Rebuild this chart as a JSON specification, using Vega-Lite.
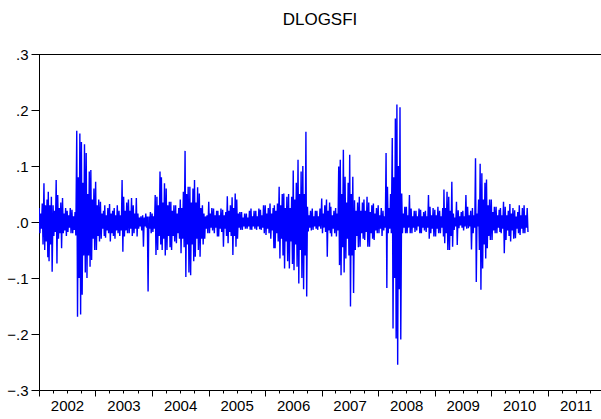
{
"$schema":"https://vega.github.io/schema/vega-lite/v6.json",
"width":562,"height":336,
"autosize":"none",
"padding":{"left":39,"top":54,"right":0,"bottom":29},
"background":"white",
"title":{"text":"DLOGSFI","fontSize":17,"font":"Liberation Sans","fontWeight":"normal","color":"black","anchor":"middle","offset":18},
"config":{"view":{"stroke":null},"axis":{"labelFont":"Liberation Sans","labelColor":"black","domainColor":"black","tickColor":"black","grid":false,"title":null}},
"data":{"values":[
{"d":"2002-01-02","v":0.025},{"d":"2002-01-07","v":-0.02},{"d":"2002-01-12","v":0.015},{"d":"2002-01-17","v":-0.012},{"d":"2002-01-22","v":0.033},{"d":"2002-01-27","v":-0.04},
{"d":"2002-02-02","v":0.069},{"d":"2002-02-07","v":-0.05},{"d":"2002-02-12","v":0.03},{"d":"2002-02-17","v":-0.035},{"d":"2002-02-22","v":0.04},{"d":"2002-02-27","v":-0.063},
{"d":"2002-03-02","v":0.054},{"d":"2002-03-07","v":-0.07},{"d":"2002-03-12","v":0.03},{"d":"2002-03-17","v":-0.04},{"d":"2002-03-22","v":0.045},{"d":"2002-03-27","v":-0.089},
{"d":"2002-04-02","v":0.03},{"d":"2002-04-07","v":-0.025},{"d":"2002-04-12","v":0.02},{"d":"2002-04-17","v":-0.018},{"d":"2002-04-22","v":0.075},{"d":"2002-04-27","v":-0.074},
{"d":"2002-05-02","v":0.048},{"d":"2002-05-07","v":-0.03},{"d":"2002-05-12","v":0.025},{"d":"2002-05-17","v":-0.02},{"d":"2002-05-22","v":0.035},{"d":"2002-05-27","v":-0.047},
{"d":"2002-06-02","v":0.043},{"d":"2002-06-07","v":-0.02},{"d":"2002-06-12","v":0.015},{"d":"2002-06-17","v":-0.015},{"d":"2002-06-22","v":0.025},{"d":"2002-06-27","v":-0.025},
{"d":"2002-07-02","v":0.02},{"d":"2002-07-07","v":-0.018},{"d":"2002-07-12","v":0.012},{"d":"2002-07-17","v":-0.01},{"d":"2002-07-22","v":0.025},{"d":"2002-07-27","v":-0.02},
{"d":"2002-08-02","v":0.022},{"d":"2002-08-07","v":-0.02},{"d":"2002-08-12","v":0.01},{"d":"2002-08-17","v":-0.014},{"d":"2002-08-22","v":0.018},{"d":"2002-08-27","v":-0.024},
{"d":"2002-09-02","v":0.163},{"d":"2002-09-07","v":-0.169},{"d":"2002-09-12","v":0.08},{"d":"2002-09-17","v":-0.1},{"d":"2002-09-22","v":0.158},{"d":"2002-09-27","v":-0.165},
{"d":"2002-10-02","v":0.143},{"d":"2002-10-07","v":-0.13},{"d":"2002-10-12","v":0.07},{"d":"2002-10-17","v":-0.06},{"d":"2002-10-22","v":0.139},{"d":"2002-10-27","v":-0.09},
{"d":"2002-11-02","v":0.123},{"d":"2002-11-07","v":-0.1},{"d":"2002-11-12","v":0.05},{"d":"2002-11-17","v":-0.06},{"d":"2002-11-22","v":0.09},{"d":"2002-11-27","v":-0.08},
{"d":"2002-12-02","v":0.093},{"d":"2002-12-07","v":-0.068},{"d":"2002-12-12","v":0.04},{"d":"2002-12-17","v":-0.03},{"d":"2002-12-22","v":0.06},{"d":"2002-12-27","v":-0.05},
{"d":"2003-01-02","v":0.072},{"d":"2003-01-07","v":-0.05},{"d":"2003-01-12","v":0.03},{"d":"2003-01-17","v":-0.025},{"d":"2003-01-22","v":0.04},{"d":"2003-01-27","v":-0.035},
{"d":"2003-02-02","v":0.036},{"d":"2003-02-07","v":-0.03},{"d":"2003-02-12","v":0.015},{"d":"2003-02-17","v":-0.012},{"d":"2003-02-22","v":0.02},{"d":"2003-02-27","v":-0.025},
{"d":"2003-03-02","v":0.03},{"d":"2003-03-07","v":-0.028},{"d":"2003-03-12","v":0.012},{"d":"2003-03-17","v":-0.015},{"d":"2003-03-22","v":0.025},{"d":"2003-03-27","v":-0.02},
{"d":"2003-04-02","v":0.032},{"d":"2003-04-07","v":-0.035},{"d":"2003-04-12","v":0.015},{"d":"2003-04-17","v":-0.02},{"d":"2003-04-22","v":0.02},{"d":"2003-04-27","v":-0.025},
{"d":"2003-05-02","v":0.025},{"d":"2003-05-07","v":-0.03},{"d":"2003-05-12","v":0.012},{"d":"2003-05-17","v":-0.015},{"d":"2003-05-22","v":0.03},{"d":"2003-05-27","v":-0.02},
{"d":"2003-06-02","v":0.02},{"d":"2003-06-07","v":-0.025},{"d":"2003-06-12","v":0.012},{"d":"2003-06-17","v":-0.015},{"d":"2003-06-22","v":0.075},{"d":"2003-06-27","v":-0.053},
{"d":"2003-07-02","v":0.045},{"d":"2003-07-07","v":-0.026},{"d":"2003-07-12","v":0.02},{"d":"2003-07-17","v":-0.015},{"d":"2003-07-22","v":0.035},{"d":"2003-07-27","v":-0.02},
{"d":"2003-08-02","v":0.04},{"d":"2003-08-07","v":-0.02},{"d":"2003-08-12","v":0.02},{"d":"2003-08-17","v":-0.012},{"d":"2003-08-22","v":0.043},{"d":"2003-08-27","v":-0.025},
{"d":"2003-09-02","v":0.03},{"d":"2003-09-07","v":-0.02},{"d":"2003-09-12","v":0.015},{"d":"2003-09-17","v":-0.012},{"d":"2003-09-22","v":0.043},{"d":"2003-09-27","v":-0.026},
{"d":"2003-10-02","v":0.015},{"d":"2003-10-07","v":-0.012},{"d":"2003-10-12","v":0.008},{"d":"2003-10-17","v":-0.008},{"d":"2003-10-22","v":0.01},{"d":"2003-10-27","v":-0.015},
{"d":"2003-11-02","v":0.012},{"d":"2003-11-07","v":-0.044},{"d":"2003-11-12","v":0.008},{"d":"2003-11-17","v":-0.008},{"d":"2003-11-22","v":0.015},{"d":"2003-11-27","v":-0.01},
{"d":"2003-12-02","v":0.01},{"d":"2003-12-07","v":-0.124},{"d":"2003-12-12","v":0.01},{"d":"2003-12-17","v":-0.012},{"d":"2003-12-22","v":0.018},{"d":"2003-12-27","v":-0.02},
{"d":"2004-01-02","v":0.015},{"d":"2004-01-07","v":-0.018},{"d":"2004-01-12","v":0.01},{"d":"2004-01-17","v":-0.012},{"d":"2004-01-22","v":0.048},{"d":"2004-01-27","v":-0.059},
{"d":"2004-02-02","v":0.045},{"d":"2004-02-07","v":-0.05},{"d":"2004-02-12","v":0.03},{"d":"2004-02-17","v":-0.025},{"d":"2004-02-22","v":0.09},{"d":"2004-02-27","v":-0.04},
{"d":"2004-03-02","v":0.08},{"d":"2004-03-07","v":-0.05},{"d":"2004-03-12","v":0.035},{"d":"2004-03-17","v":-0.03},{"d":"2004-03-22","v":0.069},{"d":"2004-03-27","v":-0.06},
{"d":"2004-04-02","v":0.06},{"d":"2004-04-07","v":-0.05},{"d":"2004-04-12","v":0.03},{"d":"2004-04-17","v":-0.025},{"d":"2004-04-22","v":0.036},{"d":"2004-04-27","v":-0.045},
{"d":"2004-05-02","v":0.036},{"d":"2004-05-07","v":-0.05},{"d":"2004-05-12","v":0.02},{"d":"2004-05-17","v":-0.025},{"d":"2004-05-22","v":0.03},{"d":"2004-05-27","v":-0.035},
{"d":"2004-06-02","v":0.03},{"d":"2004-06-07","v":-0.038},{"d":"2004-06-12","v":0.015},{"d":"2004-06-17","v":-0.02},{"d":"2004-06-22","v":0.025},{"d":"2004-06-27","v":-0.03},
{"d":"2004-07-02","v":0.04},{"d":"2004-07-07","v":-0.056},{"d":"2004-07-12","v":0.025},{"d":"2004-07-17","v":-0.03},{"d":"2004-07-22","v":0.054},{"d":"2004-07-27","v":-0.045},
{"d":"2004-08-02","v":0.127},{"d":"2004-08-07","v":-0.098},{"d":"2004-08-12","v":0.05},{"d":"2004-08-17","v":-0.04},{"d":"2004-08-22","v":0.063},{"d":"2004-08-27","v":-0.09},
{"d":"2004-09-02","v":0.063},{"d":"2004-09-07","v":-0.095},{"d":"2004-09-12","v":0.035},{"d":"2004-09-17","v":-0.04},{"d":"2004-09-22","v":0.06},{"d":"2004-09-27","v":-0.07},
{"d":"2004-10-02","v":0.075},{"d":"2004-10-07","v":-0.062},{"d":"2004-10-12","v":0.035},{"d":"2004-10-17","v":-0.03},{"d":"2004-10-22","v":0.062},{"d":"2004-10-27","v":-0.05},
{"d":"2004-11-02","v":0.051},{"d":"2004-11-07","v":-0.062},{"d":"2004-11-12","v":0.025},{"d":"2004-11-17","v":-0.03},{"d":"2004-11-22","v":0.03},{"d":"2004-11-27","v":-0.04},
{"d":"2004-12-02","v":0.015},{"d":"2004-12-07","v":-0.03},{"d":"2004-12-12","v":0.01},{"d":"2004-12-17","v":-0.012},{"d":"2004-12-22","v":0.012},{"d":"2004-12-27","v":-0.02},
{"d":"2005-01-02","v":0.036},{"d":"2005-01-07","v":-0.02},{"d":"2005-01-12","v":0.015},{"d":"2005-01-17","v":-0.01},{"d":"2005-01-22","v":0.025},{"d":"2005-01-27","v":-0.015},
{"d":"2005-02-02","v":0.024},{"d":"2005-02-07","v":-0.02},{"d":"2005-02-12","v":0.012},{"d":"2005-02-17","v":-0.01},{"d":"2005-02-22","v":0.02},{"d":"2005-02-27","v":-0.026},
{"d":"2005-03-02","v":0.02},{"d":"2005-03-07","v":-0.026},{"d":"2005-03-12","v":0.012},{"d":"2005-03-17","v":-0.012},{"d":"2005-03-22","v":0.024},{"d":"2005-03-27","v":-0.018},
{"d":"2005-04-02","v":0.022},{"d":"2005-04-07","v":-0.044},{"d":"2005-04-12","v":0.012},{"d":"2005-04-17","v":-0.012},{"d":"2005-04-22","v":0.018},{"d":"2005-04-27","v":-0.025},
{"d":"2005-05-02","v":0.046},{"d":"2005-05-07","v":-0.038},{"d":"2005-05-12","v":0.02},{"d":"2005-05-17","v":-0.018},{"d":"2005-05-22","v":0.03},{"d":"2005-05-27","v":-0.025},
{"d":"2005-06-02","v":0.044},{"d":"2005-06-07","v":-0.059},{"d":"2005-06-12","v":0.025},{"d":"2005-06-17","v":-0.025},{"d":"2005-06-22","v":0.051},{"d":"2005-06-27","v":-0.044},
{"d":"2005-07-02","v":0.04},{"d":"2005-07-07","v":-0.03},{"d":"2005-07-12","v":0.015},{"d":"2005-07-17","v":-0.01},{"d":"2005-07-22","v":0.018},{"d":"2005-07-27","v":-0.014},
{"d":"2005-08-02","v":0.018},{"d":"2005-08-07","v":-0.014},{"d":"2005-08-12","v":0.008},{"d":"2005-08-17","v":-0.008},{"d":"2005-08-22","v":0.015},{"d":"2005-08-27","v":-0.012},
{"d":"2005-09-02","v":0.015},{"d":"2005-09-07","v":-0.012},{"d":"2005-09-12","v":0.008},{"d":"2005-09-17","v":-0.008},{"d":"2005-09-22","v":0.02},{"d":"2005-09-27","v":-0.014},
{"d":"2005-10-02","v":0.024},{"d":"2005-10-07","v":-0.014},{"d":"2005-10-12","v":0.01},{"d":"2005-10-17","v":-0.008},{"d":"2005-10-22","v":0.02},{"d":"2005-10-27","v":-0.012},
{"d":"2005-11-02","v":0.02},{"d":"2005-11-07","v":-0.014},{"d":"2005-11-12","v":0.01},{"d":"2005-11-17","v":-0.008},{"d":"2005-11-22","v":0.024},{"d":"2005-11-27","v":-0.013},
{"d":"2005-12-02","v":0.022},{"d":"2005-12-07","v":-0.014},{"d":"2005-12-12","v":0.012},{"d":"2005-12-17","v":-0.01},{"d":"2005-12-22","v":0.03},{"d":"2005-12-27","v":-0.02},
{"d":"2006-01-02","v":0.03},{"d":"2006-01-07","v":-0.023},{"d":"2006-01-12","v":0.015},{"d":"2006-01-17","v":-0.012},{"d":"2006-01-22","v":0.025},{"d":"2006-01-27","v":-0.02},
{"d":"2006-02-02","v":0.033},{"d":"2006-02-07","v":-0.03},{"d":"2006-02-12","v":0.015},{"d":"2006-02-17","v":-0.015},{"d":"2006-02-22","v":0.025},{"d":"2006-02-27","v":-0.047},
{"d":"2006-03-02","v":0.03},{"d":"2006-03-07","v":-0.047},{"d":"2006-03-12","v":0.02},{"d":"2006-03-17","v":-0.02},{"d":"2006-03-22","v":0.033},{"d":"2006-03-27","v":-0.035},
{"d":"2006-04-02","v":0.063},{"d":"2006-04-07","v":-0.065},{"d":"2006-04-12","v":0.03},{"d":"2006-04-17","v":-0.03},{"d":"2006-04-22","v":0.05},{"d":"2006-04-27","v":-0.06},
{"d":"2006-05-02","v":0.051},{"d":"2006-05-07","v":-0.083},{"d":"2006-05-12","v":0.025},{"d":"2006-05-17","v":-0.035},{"d":"2006-05-22","v":0.045},{"d":"2006-05-27","v":-0.07},
{"d":"2006-06-02","v":0.05},{"d":"2006-06-07","v":-0.083},{"d":"2006-06-12","v":0.025},{"d":"2006-06-17","v":-0.035},{"d":"2006-06-22","v":0.045},{"d":"2006-06-27","v":-0.075},
{"d":"2006-07-02","v":0.092},{"d":"2006-07-07","v":-0.086},{"d":"2006-07-12","v":0.04},{"d":"2006-07-17","v":-0.04},{"d":"2006-07-22","v":0.07},{"d":"2006-07-27","v":-0.08},
{"d":"2006-08-02","v":0.111},{"d":"2006-08-07","v":-0.11},{"d":"2006-08-12","v":0.05},{"d":"2006-08-17","v":-0.05},{"d":"2006-08-22","v":0.09},{"d":"2006-08-27","v":-0.1},
{"d":"2006-09-02","v":0.1},{"d":"2006-09-07","v":-0.12},{"d":"2006-09-12","v":0.05},{"d":"2006-09-17","v":-0.06},{"d":"2006-09-22","v":0.161},{"d":"2006-09-27","v":-0.133},
{"d":"2006-10-02","v":0.027},{"d":"2006-10-07","v":-0.017},{"d":"2006-10-12","v":0.012},{"d":"2006-10-17","v":-0.01},{"d":"2006-10-22","v":0.02},{"d":"2006-10-27","v":-0.015},
{"d":"2006-11-02","v":0.024},{"d":"2006-11-07","v":-0.014},{"d":"2006-11-12","v":0.01},{"d":"2006-11-17","v":-0.008},{"d":"2006-11-22","v":0.02},{"d":"2006-11-27","v":-0.012},
{"d":"2006-12-02","v":0.02},{"d":"2006-12-07","v":-0.014},{"d":"2006-12-12","v":0.01},{"d":"2006-12-17","v":-0.008},{"d":"2006-12-22","v":0.024},{"d":"2006-12-27","v":-0.012},
{"d":"2007-01-02","v":0.042},{"d":"2007-01-07","v":-0.02},{"d":"2007-01-12","v":0.015},{"d":"2007-01-17","v":-0.01},{"d":"2007-01-22","v":0.03},{"d":"2007-01-27","v":-0.018},
{"d":"2007-02-02","v":0.04},{"d":"2007-02-07","v":-0.062},{"d":"2007-02-12","v":0.02},{"d":"2007-02-17","v":-0.015},{"d":"2007-02-22","v":0.035},{"d":"2007-02-27","v":-0.02},
{"d":"2007-03-02","v":0.027},{"d":"2007-03-07","v":-0.026},{"d":"2007-03-12","v":0.012},{"d":"2007-03-17","v":-0.012},{"d":"2007-03-22","v":0.02},{"d":"2007-03-27","v":-0.02},
{"d":"2007-04-02","v":0.025},{"d":"2007-04-07","v":-0.026},{"d":"2007-04-12","v":0.015},{"d":"2007-04-17","v":-0.015},{"d":"2007-04-22","v":0.099},{"d":"2007-04-27","v":-0.077},
{"d":"2007-05-02","v":0.111},{"d":"2007-05-07","v":-0.095},{"d":"2007-05-12","v":0.05},{"d":"2007-05-17","v":-0.045},{"d":"2007-05-22","v":0.129},{"d":"2007-05-27","v":-0.09},
{"d":"2007-06-02","v":0.081},{"d":"2007-06-07","v":-0.065},{"d":"2007-06-12","v":0.035},{"d":"2007-06-17","v":-0.03},{"d":"2007-06-22","v":0.07},{"d":"2007-06-27","v":-0.06},
{"d":"2007-07-02","v":0.12},{"d":"2007-07-07","v":-0.151},{"d":"2007-07-12","v":0.05},{"d":"2007-07-17","v":-0.06},{"d":"2007-07-22","v":0.081},{"d":"2007-07-27","v":-0.127},
{"d":"2007-08-02","v":0.039},{"d":"2007-08-07","v":-0.05},{"d":"2007-08-12","v":0.02},{"d":"2007-08-17","v":-0.025},{"d":"2007-08-22","v":0.035},{"d":"2007-08-27","v":-0.045},
{"d":"2007-09-02","v":0.045},{"d":"2007-09-07","v":-0.044},{"d":"2007-09-12","v":0.02},{"d":"2007-09-17","v":-0.02},{"d":"2007-09-22","v":0.035},{"d":"2007-09-27","v":-0.03},
{"d":"2007-10-02","v":0.04},{"d":"2007-10-07","v":-0.032},{"d":"2007-10-12","v":0.02},{"d":"2007-10-17","v":-0.018},{"d":"2007-10-22","v":0.045},{"d":"2007-10-27","v":-0.044},
{"d":"2007-11-02","v":0.035},{"d":"2007-11-07","v":-0.044},{"d":"2007-11-12","v":0.018},{"d":"2007-11-17","v":-0.02},{"d":"2007-11-22","v":0.03},{"d":"2007-11-27","v":-0.03},
{"d":"2007-12-02","v":0.033},{"d":"2007-12-07","v":-0.032},{"d":"2007-12-12","v":0.015},{"d":"2007-12-17","v":-0.015},{"d":"2007-12-22","v":0.025},{"d":"2007-12-27","v":-0.02},
{"d":"2008-01-02","v":0.03},{"d":"2008-01-07","v":-0.02},{"d":"2008-01-12","v":0.012},{"d":"2008-01-17","v":-0.012},{"d":"2008-01-22","v":0.025},{"d":"2008-01-27","v":-0.025},
{"d":"2008-02-02","v":0.02},{"d":"2008-02-07","v":-0.015},{"d":"2008-02-12","v":0.01},{"d":"2008-02-17","v":-0.01},{"d":"2008-02-22","v":0.123},{"d":"2008-02-27","v":-0.118},
{"d":"2008-03-02","v":0.063},{"d":"2008-03-07","v":-0.02},{"d":"2008-03-12","v":0.025},{"d":"2008-03-17","v":-0.012},{"d":"2008-03-22","v":0.05},{"d":"2008-03-27","v":-0.02},
{"d":"2008-04-02","v":0.15},{"d":"2008-04-07","v":-0.19},{"d":"2008-04-12","v":0.08},{"d":"2008-04-17","v":-0.1},{"d":"2008-04-22","v":0.185},{"d":"2008-04-27","v":-0.208},
{"d":"2008-05-02","v":0.21},{"d":"2008-05-07","v":-0.255},{"d":"2008-05-12","v":0.1},{"d":"2008-05-17","v":-0.12},{"d":"2008-05-22","v":0.205},{"d":"2008-05-27","v":-0.21},
{"d":"2008-06-02","v":0.051},{"d":"2008-06-07","v":-0.02},{"d":"2008-06-12","v":0.015},{"d":"2008-06-17","v":-0.01},{"d":"2008-06-22","v":0.027},{"d":"2008-06-27","v":-0.02},
{"d":"2008-07-02","v":0.027},{"d":"2008-07-07","v":-0.02},{"d":"2008-07-12","v":0.012},{"d":"2008-07-17","v":-0.01},{"d":"2008-07-22","v":0.048},{"d":"2008-07-27","v":-0.02},
{"d":"2008-08-02","v":0.024},{"d":"2008-08-07","v":-0.02},{"d":"2008-08-12","v":0.01},{"d":"2008-08-17","v":-0.01},{"d":"2008-08-22","v":0.02},{"d":"2008-08-27","v":-0.018},
{"d":"2008-09-02","v":0.02},{"d":"2008-09-07","v":-0.015},{"d":"2008-09-12","v":0.01},{"d":"2008-09-17","v":-0.008},{"d":"2008-09-22","v":0.024},{"d":"2008-09-27","v":-0.02},
{"d":"2008-10-02","v":0.022},{"d":"2008-10-07","v":-0.02},{"d":"2008-10-12","v":0.01},{"d":"2008-10-17","v":-0.01},{"d":"2008-10-22","v":0.018},{"d":"2008-10-27","v":-0.015},
{"d":"2008-11-02","v":0.02},{"d":"2008-11-07","v":-0.018},{"d":"2008-11-12","v":0.01},{"d":"2008-11-17","v":-0.01},{"d":"2008-11-22","v":0.048},{"d":"2008-11-27","v":-0.03},
{"d":"2008-12-02","v":0.027},{"d":"2008-12-07","v":-0.02},{"d":"2008-12-12","v":0.012},{"d":"2008-12-17","v":-0.012},{"d":"2008-12-22","v":0.025},{"d":"2008-12-27","v":-0.026},
{"d":"2009-01-02","v":0.022},{"d":"2009-01-07","v":-0.026},{"d":"2009-01-12","v":0.012},{"d":"2009-01-17","v":-0.012},{"d":"2009-01-22","v":0.027},{"d":"2009-01-27","v":-0.02},
{"d":"2009-02-02","v":0.02},{"d":"2009-02-07","v":-0.02},{"d":"2009-02-12","v":0.01},{"d":"2009-02-17","v":-0.01},{"d":"2009-02-22","v":0.025},{"d":"2009-02-27","v":-0.026},
{"d":"2009-03-02","v":0.058},{"d":"2009-03-07","v":-0.038},{"d":"2009-03-12","v":0.025},{"d":"2009-03-17","v":-0.02},{"d":"2009-03-22","v":0.054},{"d":"2009-03-27","v":-0.05},
{"d":"2009-04-02","v":0.045},{"d":"2009-04-07","v":-0.05},{"d":"2009-04-12","v":0.02},{"d":"2009-04-17","v":-0.025},{"d":"2009-04-22","v":0.072},{"d":"2009-04-27","v":-0.044},
{"d":"2009-05-02","v":0.015},{"d":"2009-05-07","v":-0.014},{"d":"2009-05-12","v":0.008},{"d":"2009-05-17","v":-0.008},{"d":"2009-05-22","v":0.036},{"d":"2009-05-27","v":-0.041},
{"d":"2009-06-02","v":0.021},{"d":"2009-06-07","v":-0.011},{"d":"2009-06-12","v":0.01},{"d":"2009-06-17","v":-0.006},{"d":"2009-06-22","v":0.018},{"d":"2009-06-27","v":-0.01},
{"d":"2009-07-02","v":0.02},{"d":"2009-07-07","v":-0.015},{"d":"2009-07-12","v":0.01},{"d":"2009-07-17","v":-0.008},{"d":"2009-07-22","v":0.048},{"d":"2009-07-27","v":-0.012},
{"d":"2009-08-02","v":0.027},{"d":"2009-08-07","v":-0.011},{"d":"2009-08-12","v":0.012},{"d":"2009-08-17","v":-0.008},{"d":"2009-08-22","v":0.02},{"d":"2009-08-27","v":-0.049},
{"d":"2009-09-02","v":0.025},{"d":"2009-09-07","v":-0.02},{"d":"2009-09-12","v":0.012},{"d":"2009-09-17","v":-0.01},{"d":"2009-09-22","v":0.114},{"d":"2009-09-27","v":-0.107},
{"d":"2009-10-02","v":0.015},{"d":"2009-10-07","v":-0.008},{"d":"2009-10-12","v":0.04},{"d":"2009-10-17","v":-0.05},{"d":"2009-10-22","v":0.104},{"d":"2009-10-27","v":-0.121},
{"d":"2009-11-02","v":0.087},{"d":"2009-11-07","v":-0.083},{"d":"2009-11-12","v":0.04},{"d":"2009-11-17","v":-0.04},{"d":"2009-11-22","v":0.07},{"d":"2009-11-27","v":-0.065},
{"d":"2009-12-02","v":0.076},{"d":"2009-12-07","v":-0.047},{"d":"2009-12-12","v":0.03},{"d":"2009-12-17","v":-0.025},{"d":"2009-12-22","v":0.04},{"d":"2009-12-27","v":-0.032},
{"d":"2010-01-02","v":0.04},{"d":"2010-01-07","v":-0.032},{"d":"2010-01-12","v":0.018},{"d":"2010-01-17","v":-0.015},{"d":"2010-01-22","v":0.027},{"d":"2010-01-27","v":-0.02},
{"d":"2010-02-02","v":0.027},{"d":"2010-02-07","v":-0.02},{"d":"2010-02-12","v":0.012},{"d":"2010-02-17","v":-0.01},{"d":"2010-02-22","v":0.022},{"d":"2010-02-27","v":-0.018},
{"d":"2010-03-02","v":0.025},{"d":"2010-03-07","v":-0.02},{"d":"2010-03-12","v":0.012},{"d":"2010-03-17","v":-0.012},{"d":"2010-03-22","v":0.036},{"d":"2010-03-27","v":-0.056},
{"d":"2010-04-02","v":0.027},{"d":"2010-04-07","v":-0.032},{"d":"2010-04-12","v":0.012},{"d":"2010-04-17","v":-0.015},{"d":"2010-04-22","v":0.02},{"d":"2010-04-27","v":-0.025},
{"d":"2010-05-02","v":0.032},{"d":"2010-05-07","v":-0.035},{"d":"2010-05-12","v":0.015},{"d":"2010-05-17","v":-0.015},{"d":"2010-05-22","v":0.025},{"d":"2010-05-27","v":-0.03},
{"d":"2010-06-02","v":0.021},{"d":"2010-06-07","v":-0.029},{"d":"2010-06-12","v":0.01},{"d":"2010-06-17","v":-0.012},{"d":"2010-06-22","v":0.018},{"d":"2010-06-27","v":-0.02},
{"d":"2010-07-02","v":0.03},{"d":"2010-07-07","v":-0.023},{"d":"2010-07-12","v":0.012},{"d":"2010-07-17","v":-0.012},{"d":"2010-07-22","v":0.025},{"d":"2010-07-27","v":-0.02},
{"d":"2010-08-02","v":0.03},{"d":"2010-08-07","v":-0.02},{"d":"2010-08-12","v":0.012},{"d":"2010-08-17","v":-0.01},{"d":"2010-08-22","v":0.025},{"d":"2010-08-27","v":-0.018}
]},
"layer":[
{"mark":{"type":"line","color":"#0000FF","strokeWidth":1.4,"clip":true},
 "encoding":{
  "x":{"field":"d","type":"temporal",
   "scale":{"domain":[{"year":2002,"month":1,"date":1},{"year":2011,"month":12,"date":12}]},
   "axis":{"values":[
    {"year":2002,"month":1},{"year":2002,"month":4},{"year":2002,"month":7},{"year":2002,"month":10},
    {"year":2003,"month":1},{"year":2003,"month":4},{"year":2003,"month":7},{"year":2003,"month":10},
    {"year":2004,"month":1},{"year":2004,"month":4},{"year":2004,"month":7},{"year":2004,"month":10},
    {"year":2005,"month":1},{"year":2005,"month":4},{"year":2005,"month":7},{"year":2005,"month":10},
    {"year":2006,"month":1},{"year":2006,"month":4},{"year":2006,"month":7},{"year":2006,"month":10},
    {"year":2007,"month":1},{"year":2007,"month":4},{"year":2007,"month":7},{"year":2007,"month":10},
    {"year":2008,"month":1},{"year":2008,"month":4},{"year":2008,"month":7},{"year":2008,"month":10},
    {"year":2009,"month":1},{"year":2009,"month":4},{"year":2009,"month":7},{"year":2009,"month":10},
    {"year":2010,"month":1},{"year":2010,"month":4},{"year":2010,"month":7},{"year":2010,"month":10},
    {"year":2011,"month":1},{"year":2011,"month":4},{"year":2011,"month":7},{"year":2011,"month":10}],
    "labelExpr":"month(datum.value)==6 ? timeFormat(datum.value,'%Y') : ''",
    "tickSize":{"condition":{"test":"month(datum.value)==0","value":6},"value":3},
    "labelOverlap":false,"labelFlush":false,"labelBound":false,
    "labelFontSize":15,"labelPadding":5,"labelAlign":"center"}},
  "y":{"field":"v","type":"quantitative",
   "scale":{"domain":[-0.3,0.3],"nice":false,"zero":false},
   "axis":{"values":[-0.3,-0.2,-0.1,0,0.1,0.2,0.3],
    "labelExpr":"replace(format(datum.value,'.1f'),'0.','.')",
    "tickSize":8,"labelPadding":3,"labelFontSize":15}}}},
{"mark":{"type":"rule","color":"black","strokeWidth":1,"yOffset":0.5},"encoding":{"y":{"datum":0.3}}}
]
}
